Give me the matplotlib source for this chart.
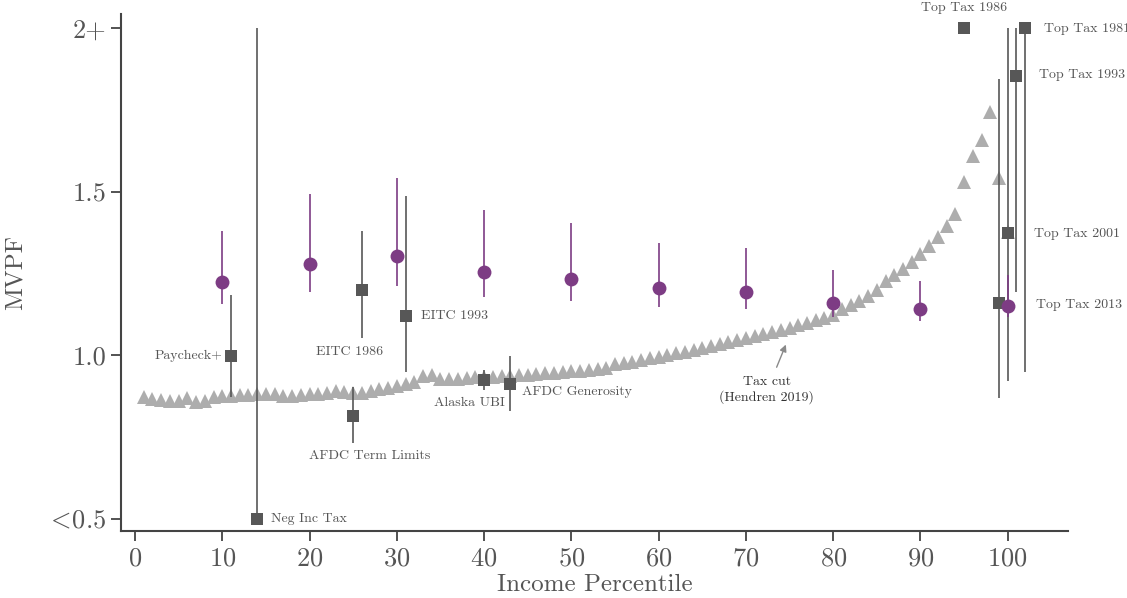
import matplotlib
matplotlib.use("Agg")
import matplotlib.pyplot as plt

plt.rcParams["font.family"] = "serif"
plt.rcParams["font.serif"] = ["cmr10", "DejaVu Serif"]
plt.rcParams["mathtext.fontset"] = "cm"
plt.rcParams["axes.formatter.use_mathtext"] = True

# tax-cut curve, percentiles 1..100
pct = list(range(1, 101))
curve = [0.872, 0.866, 0.862, 0.861, 0.861, 0.868, 0.858, 0.859, 0.872, 0.874,
         0.876, 0.877, 0.879, 0.880, 0.881, 0.880, 0.874, 0.876, 0.878, 0.880,
         0.882, 0.884, 0.890, 0.886, 0.884, 0.885, 0.890, 0.895, 0.900, 0.906,
         0.912, 0.918, 0.935, 0.940, 0.928, 0.926, 0.928, 0.930, 0.932, 0.933,
         0.934, 0.936, 0.937, 0.939, 0.940, 0.942, 0.944, 0.946, 0.948, 0.950,
         0.952, 0.954, 0.956, 0.962, 0.972, 0.976, 0.980, 0.985, 0.990, 0.995,
         1.000, 1.005, 1.010, 1.016, 1.022, 1.028, 1.034, 1.040, 1.046, 1.052,
         1.058, 1.064, 1.070, 1.077, 1.084, 1.091, 1.098, 1.106, 1.114, 1.124,
         1.141, 1.153, 1.166, 1.180, 1.200, 1.227, 1.245, 1.263, 1.284, 1.309,
         1.334, 1.362, 1.394, 1.431, 1.530, 1.609, 1.657, 1.743, 1.541, 1.376]

# purple points with CIs
dec_x = [10, 20, 30, 40, 50, 60, 70, 80, 90, 100]
dec_y = [1.222, 1.279, 1.303, 1.254, 1.234, 1.205, 1.194, 1.159, 1.141, 1.151]
dec_lo = [1.156, 1.194, 1.211, 1.178, 1.165, 1.147, 1.141, 1.117, 1.104, 1.116]
dec_hi = [1.380, 1.492, 1.541, 1.443, 1.404, 1.343, 1.327, 1.260, 1.226, 1.245]

# policies
pol_names = ["Paycheck+", "Neg Inc Tax", "EITC 1986", "EITC 1993", "AFDC Term Limits",
             "Alaska UBI", "AFDC Generosity", "Top Tax 1986", "Top Tax 1981",
             "Top Tax 1993", "Top Tax 2001", "Top Tax 2013"]
pol_x = [11, 14, 26, 31, 25, 40, 43, 95, 102, 101, 100, 99]
pol_y = [0.998, 0.5, 1.198, 1.119, 0.814, 0.924, 0.911, 2.0, 2.0, 1.853, 1.373, 1.159]
pol_lo = [0.872, 0.5, 1.052, 0.949, 0.731, 0.893, 0.829, 2.0, 0.948, 1.193, 0.920, 0.868]
pol_hi = [1.183, 2.0, 1.379, 1.487, 0.903, 0.954, 0.997, 2.0, 2.0, 2.0, 2.0, 1.843]

# label placement (offset pixels, alignment)
lab_pos = {
    "Paycheck+": (-9, 0, "right"),
    "Neg Inc Tax": (14, 0, "left"),
    "EITC 1986": (-12, -62, "center"),
    "EITC 1993": (15, 0, "left"),
    "AFDC Term Limits": (17, -40, "center"),
    "Alaska UBI": (-15, -23, "center"),
    "AFDC Generosity": (12, -8, "left"),
    "Top Tax 1986": (0, 20, "center"),
    "Top Tax 1981": (19, -1, "left"),
    "Top Tax 1993": (23, 1, "left"),
    "Top Tax 2001": (26, -1, "left"),
    "Top Tax 2013": (37, -2, "left"),
}

purple = "#7d3c84"
sq_col = "#575757"
tri_col = "#adadad"
txt_col = "#555555"
ax_col = "#444444"

fig = plt.figure(figsize=(11.27, 5.98), dpi=100)
ax = fig.add_axes([0.1074, 0.112, 0.8402, 0.8646])

ax.plot(pct, curve, linestyle="none", marker="^", markersize=10,
        color=tri_col, markeredgewidth=0, zorder=2)

for x, lo, hi in zip(pol_x, pol_lo, pol_hi):
    ax.vlines(x, lo, hi, color=sq_col, linewidth=1.2, zorder=3)
ax.plot(pol_x, pol_y, linestyle="none", marker="s", markersize=8,
        color=sq_col, markeredgewidth=0, zorder=4)

for x, lo, hi in zip(dec_x, dec_lo, dec_hi):
    ax.vlines(x, lo, hi, color=purple, linewidth=1.2, zorder=5)
ax.plot(dec_x, dec_y, linestyle="none", marker="o", markersize=10,
        color=purple, markeredgewidth=0, zorder=6)

for name, x, y in zip(pol_names, pol_x, pol_y):
    dx, dy, ha = lab_pos[name]
    ax.annotate(name, (x, y), xytext=(dx, dy), textcoords="offset pixels",
                ha=ha, va="center", fontsize=10, color=txt_col,
                annotation_clip=False, zorder=7)

ax.annotate("", xy=(74.7, 1.04), xytext=(73.4, 0.955),
            arrowprops=dict(arrowstyle="-|>", color="#8a8a8a", lw=1,
                            mutation_scale=10))
ax.text(72.4, 0.893, "Tax cut\n(Hendren 2019)", ha="center", va="center",
        fontsize=10, color="#333333", linespacing=1.2)

ax.set_xlim(-1.6, 106.9)
ax.set_ylim(0.462, 2.043)
ax.set_xticks(range(0, 101, 10))
ax.set_yticks([0.5, 1.0, 1.5, 2.0])
ax.set_yticklabels([r"$<\!$0.5", "1.0", "1.5", "2+"])
ax.tick_params(axis="both", labelsize=19, colors=ax_col, labelcolor=txt_col,
               length=7, width=1.3, direction="out")
ax.tick_params(axis="x", pad=4)
ax.set_xlabel("Income Percentile", fontsize=18, color=txt_col, labelpad=3)
ax.set_ylabel("MVPF", fontsize=18, color=txt_col, labelpad=14)

for side in ["top", "right"]:
    ax.spines[side].set_visible(False)
for side in ["left", "bottom"]:
    ax.spines[side].set_color(ax_col)
    ax.spines[side].set_linewidth(1.5)

fig.savefig("out.png", dpi=100)
